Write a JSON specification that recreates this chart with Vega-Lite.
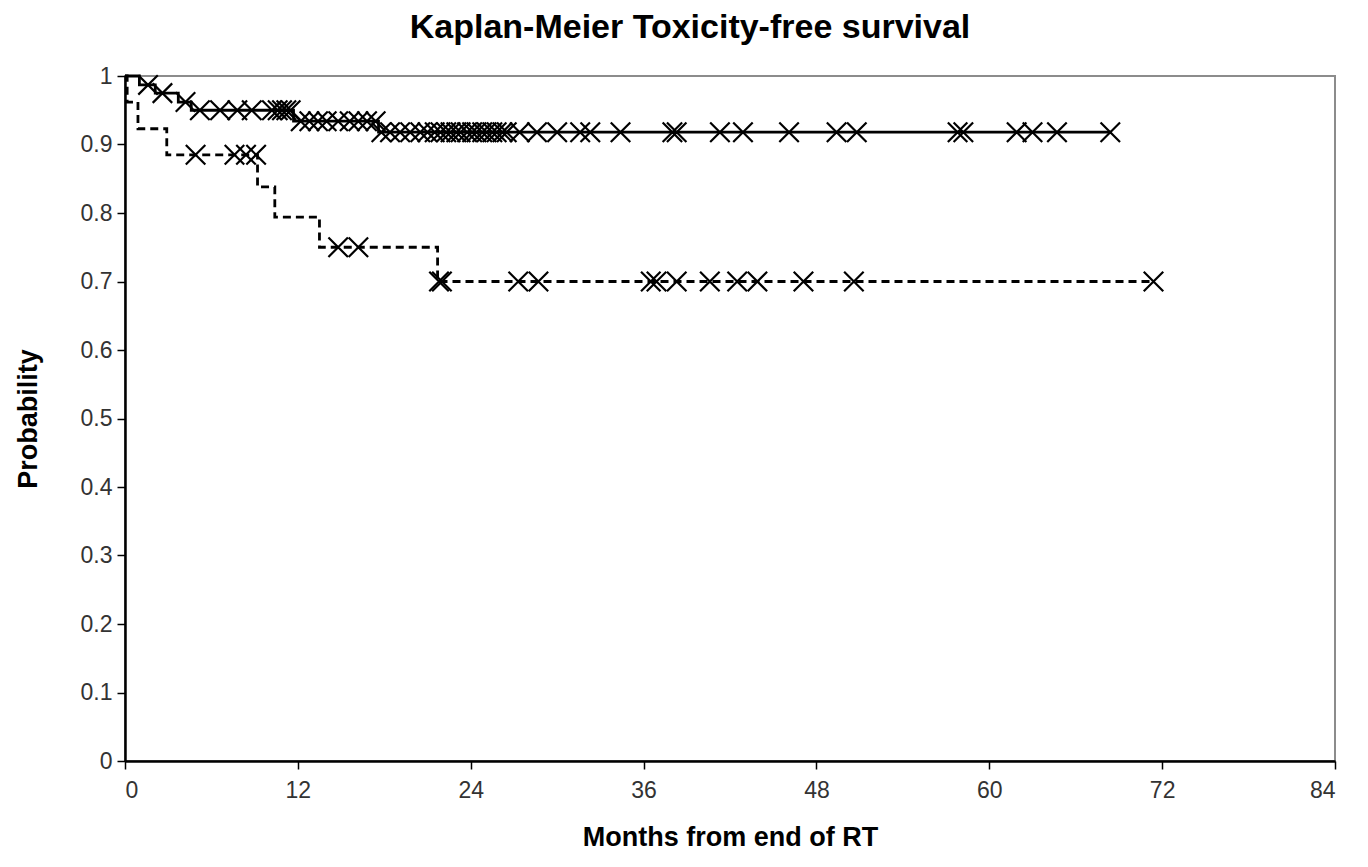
{
  "$schema": "https://vega.github.io/schema/vega-lite/v6.json",
  "autosize": {"type": "none"},
  "padding": {"left": 125, "top": 76, "right": 33, "bottom": 106},
  "width": 1210,
  "height": 685,
  "background": "white",
  "config": {
    "view": {"stroke": "#8c8c8c", "strokeWidth": 2},
    "axis": {"grid": false, "domainColor": "black", "domainWidth": 2.5, "tickColor": "black", "tickWidth": 1.5, "tickSize": 8, "labelFont": "Liberation Sans", "labelFontSize": 23, "labelColor": "#333", "titleFont": "Liberation Sans", "titleFontWeight": "bold", "titleColor": "black", "titleFontSize": 27}
  },
  "title": {"text": "Kaplan-Meier Toxicity-free survival", "font": "Liberation Sans", "fontSize": 34, "fontWeight": "bold", "color": "black", "offset": 20, "dx": -40},
  "datasets": {
    "steps": [
      {"group": "A", "month": 0, "prob": 1.0},
      {"group": "A", "month": 1.0, "prob": 0.987},
      {"group": "A", "month": 2.1, "prob": 0.975},
      {"group": "A", "month": 3.7, "prob": 0.962},
      {"group": "A", "month": 4.6, "prob": 0.95},
      {"group": "A", "month": 11.7, "prob": 0.934},
      {"group": "A", "month": 17.6, "prob": 0.918},
      {"group": "A", "month": 68.5, "prob": 0.918},
      {"group": "B", "month": 0, "prob": 1.0},
      {"group": "B", "month": 0.15, "prob": 0.962},
      {"group": "B", "month": 0.9, "prob": 0.923},
      {"group": "B", "month": 2.9, "prob": 0.885},
      {"group": "B", "month": 9.2, "prob": 0.838},
      {"group": "B", "month": 10.4, "prob": 0.794},
      {"group": "B", "month": 13.5, "prob": 0.75},
      {"group": "B", "month": 21.7, "prob": 0.70},
      {"group": "B", "month": 71.5, "prob": 0.70}
    ],
    "censored": [
      {"group": "A", "month": 1.6, "prob": 0.987},
      {"group": "A", "month": 2.6, "prob": 0.975},
      {"group": "A", "month": 4.2, "prob": 0.962},
      {"group": "A", "month": 5.2, "prob": 0.95},
      {"group": "A", "month": 6.6, "prob": 0.95},
      {"group": "A", "month": 7.8, "prob": 0.95},
      {"group": "A", "month": 8.8, "prob": 0.95},
      {"group": "A", "month": 10.2, "prob": 0.95},
      {"group": "A", "month": 10.6, "prob": 0.95},
      {"group": "A", "month": 10.9, "prob": 0.95},
      {"group": "A", "month": 11.2, "prob": 0.95},
      {"group": "A", "month": 11.5, "prob": 0.95},
      {"group": "A", "month": 12.2, "prob": 0.934},
      {"group": "A", "month": 12.8, "prob": 0.934},
      {"group": "A", "month": 13.4, "prob": 0.934},
      {"group": "A", "month": 14.0, "prob": 0.934},
      {"group": "A", "month": 14.8, "prob": 0.934},
      {"group": "A", "month": 15.6, "prob": 0.934},
      {"group": "A", "month": 16.2, "prob": 0.934},
      {"group": "A", "month": 16.8, "prob": 0.934},
      {"group": "A", "month": 17.4, "prob": 0.934},
      {"group": "A", "month": 17.8, "prob": 0.918},
      {"group": "A", "month": 18.4, "prob": 0.918},
      {"group": "A", "month": 19.1, "prob": 0.918},
      {"group": "A", "month": 19.8, "prob": 0.918},
      {"group": "A", "month": 20.5, "prob": 0.918},
      {"group": "A", "month": 21.0, "prob": 0.918},
      {"group": "A", "month": 21.5, "prob": 0.918},
      {"group": "A", "month": 21.9, "prob": 0.918},
      {"group": "A", "month": 22.3, "prob": 0.918},
      {"group": "A", "month": 22.6, "prob": 0.918},
      {"group": "A", "month": 23.0, "prob": 0.918},
      {"group": "A", "month": 23.3, "prob": 0.918},
      {"group": "A", "month": 23.75, "prob": 0.918},
      {"group": "A", "month": 24.1, "prob": 0.918},
      {"group": "A", "month": 24.4, "prob": 0.918},
      {"group": "A", "month": 24.8, "prob": 0.918},
      {"group": "A", "month": 25.1, "prob": 0.918},
      {"group": "A", "month": 25.5, "prob": 0.918},
      {"group": "A", "month": 25.8, "prob": 0.918},
      {"group": "A", "month": 26.2, "prob": 0.918},
      {"group": "A", "month": 26.5, "prob": 0.918},
      {"group": "A", "month": 27.4, "prob": 0.918},
      {"group": "A", "month": 28.6, "prob": 0.918},
      {"group": "A", "month": 30.0, "prob": 0.918},
      {"group": "A", "month": 31.6, "prob": 0.918},
      {"group": "A", "month": 32.3, "prob": 0.918},
      {"group": "A", "month": 34.4, "prob": 0.918},
      {"group": "A", "month": 38.0, "prob": 0.918},
      {"group": "A", "month": 38.3, "prob": 0.918},
      {"group": "A", "month": 41.3, "prob": 0.918},
      {"group": "A", "month": 42.9, "prob": 0.918},
      {"group": "A", "month": 46.1, "prob": 0.918},
      {"group": "A", "month": 49.4, "prob": 0.918},
      {"group": "A", "month": 50.8, "prob": 0.918},
      {"group": "A", "month": 57.8, "prob": 0.918},
      {"group": "A", "month": 58.2, "prob": 0.918},
      {"group": "A", "month": 61.9, "prob": 0.918},
      {"group": "A", "month": 63.0, "prob": 0.918},
      {"group": "A", "month": 64.7, "prob": 0.918},
      {"group": "A", "month": 68.4, "prob": 0.918},
      {"group": "B", "month": 4.9, "prob": 0.885},
      {"group": "B", "month": 7.6, "prob": 0.885},
      {"group": "B", "month": 8.4, "prob": 0.885},
      {"group": "B", "month": 9.1, "prob": 0.885},
      {"group": "B", "month": 14.8, "prob": 0.75},
      {"group": "B", "month": 16.2, "prob": 0.75},
      {"group": "B", "month": 21.8, "prob": 0.70},
      {"group": "B", "month": 22.0, "prob": 0.70},
      {"group": "B", "month": 27.3, "prob": 0.70},
      {"group": "B", "month": 28.7, "prob": 0.70},
      {"group": "B", "month": 36.5, "prob": 0.70},
      {"group": "B", "month": 36.9, "prob": 0.70},
      {"group": "B", "month": 38.3, "prob": 0.70},
      {"group": "B", "month": 40.6, "prob": 0.70},
      {"group": "B", "month": 42.5, "prob": 0.70},
      {"group": "B", "month": 43.9, "prob": 0.70},
      {"group": "B", "month": 47.1, "prob": 0.70},
      {"group": "B", "month": 50.6, "prob": 0.70},
      {"group": "B", "month": 71.4, "prob": 0.70}
    ]
  },
  "encoding": {
    "x": {"field": "month", "type": "quantitative", "scale": {"domain": [0, 84], "nice": false, "zero": true}, "axis": {"values": [0, 12, 24, 36, 48, 60, 72, 84], "title": "Months from end of RT", "titlePadding": 22, "labelPadding": 10}},
    "y": {"field": "prob", "type": "quantitative", "scale": {"domain": [0, 1], "nice": false}, "axis": {"values": [0, 0.1, 0.2, 0.3, 0.4, 0.5, 0.6, 0.7, 0.8, 0.9, 1], "format": "~g", "title": "Probability", "titlePadding": 38, "labelPadding": 5}}
  },
  "layer": [
    {
      "data": {"name": "steps"},
      "mark": {"type": "line", "interpolate": "step-after", "color": "black", "strokeWidth": 2.8},
      "encoding": {
        "detail": {"field": "group"},
        "strokeDash": {"field": "group", "type": "nominal", "scale": {"domain": ["A", "B"], "range": [[1, 0], [8, 5]]}, "legend": null}
      }
    },
    {
      "data": {"name": "censored"},
      "mark": {"type": "point", "shape": "M-1,-1L1,1M-1,1L1,-1", "filled": false, "color": "black", "strokeWidth": 2.2, "size": 380, "opacity": 1},
      "encoding": {}
    }
  ]
}
